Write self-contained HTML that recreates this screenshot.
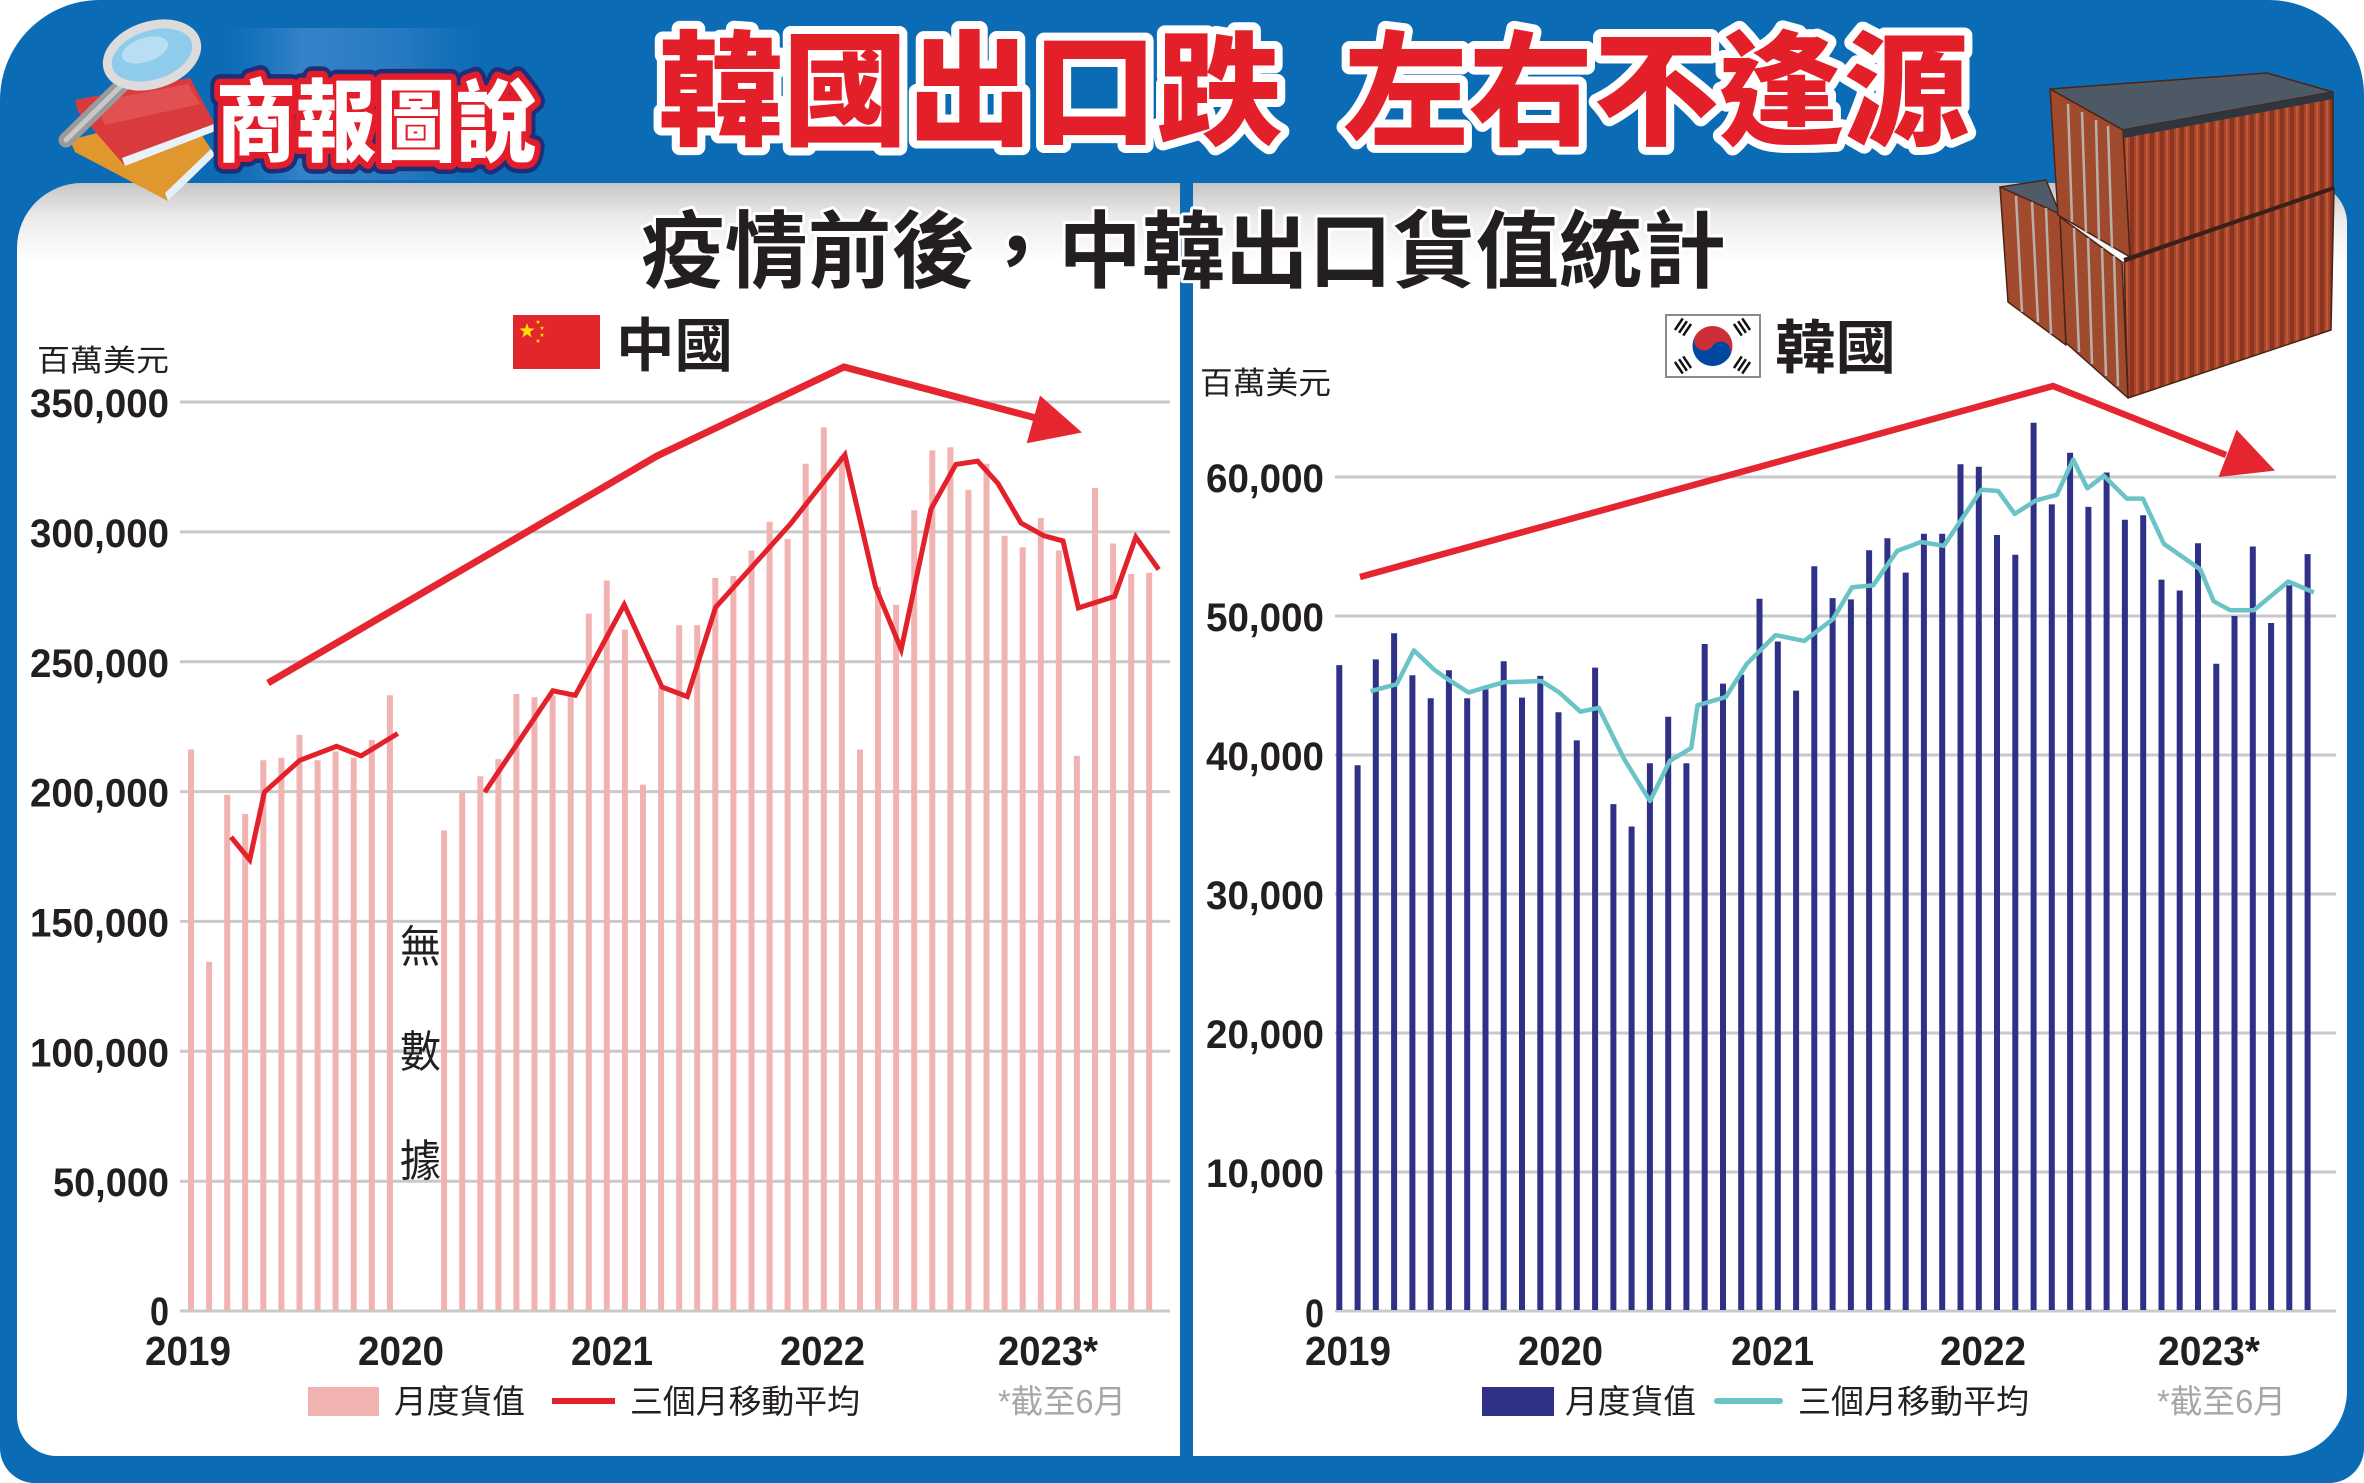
<!DOCTYPE html>
<html>
<head>
<meta charset="utf-8">
<style>
html,body{margin:0;padding:0;background:#fff;}
body{width:2364px;height:1483px;overflow:hidden;}
svg{display:block;}
.num{font-family:"Liberation Sans","Noto Sans CJK TC",sans-serif;font-weight:bold;fill:#231f20;}
.cjk{font-family:"Liberation Sans","Noto Sans CJK TC",sans-serif;}
</style>
</head>
<body>
<svg width="2364" height="1483" viewBox="0 0 2364 1483" xmlns="http://www.w3.org/2000/svg">
<defs>
  <linearGradient id="pg" x1="0" y1="183" x2="0" y2="262" gradientUnits="userSpaceOnUse">
    <stop offset="0" stop-color="#c6c6c6"/>
    <stop offset="0.45" stop-color="#ececec"/>
    <stop offset="1" stop-color="#ffffff"/>
  </linearGradient>
  <linearGradient id="tex" x1="0" y1="0" x2="1" y2="0">
    <stop offset="0" stop-color="#4a8fd6" stop-opacity="0"/>
    <stop offset="0.3" stop-color="#5a95d8" stop-opacity="0.55"/>
    <stop offset="0.7" stop-color="#3f86cc" stop-opacity="0.5"/>
    <stop offset="1" stop-color="#2f7cc4" stop-opacity="0"/>
  </linearGradient>
  <pattern id="ribs" width="10" height="20" patternUnits="userSpaceOnUse">
    <rect width="10" height="20" fill="#a9452a"/>
    <rect x="0" width="4" height="20" fill="#8a3520"/>
    <rect x="6" width="2" height="20" fill="#c0593a"/>
  </pattern>
  <polygon id="star" points="0,-8 1.9,-2.6 7.6,-2.5 3,1 4.7,6.5 0,3.2 -4.7,6.5 -3,1 -7.6,-2.5 -1.9,-2.6"/>
</defs>

<!-- outer blue frame -->
<path d="M100,0 H2269 A95,95 0 0 1 2364,95 V1448 A35,35 0 0 1 2329,1483 H35 A35,35 0 0 1 0,1448 V100 A100,100 0 0 1 100,0 Z" fill="#0b6cb5"/>
<!-- texture behind logo -->
<rect x="230" y="28" width="250" height="152" fill="url(#tex)"/>

<!-- white panels -->
<path d="M17,248 A65,65 0 0 1 82,183 H1180 V1456 H57 A40,40 0 0 1 17,1416 Z" fill="url(#pg)"/>
<path d="M1193,183 H2307 A40,40 0 0 1 2347,223 V1391 A65,65 0 0 1 2282,1456 H1193 Z" fill="url(#pg)"/>

<!-- logo icon: books & magnifier -->
<polygon points="70,140 185,110 215,155 168,201 75,152" fill="#e0982e"/>
<polygon points="168,201 215,155 211,149 165,193" fill="#e3f0f7"/>
<polygon points="75,100 190,78 218,130 125,166 78,112" fill="#d93a3c"/>
<polygon points="125,166 218,130 214,124 122,158" fill="#e8f2f8"/>
<polygon points="95,102 188,84 200,104 105,125" fill="#e86060" opacity="0.6"/>
<line x1="125" y1="82" x2="66" y2="140" stroke="#9a9a9a" stroke-width="15" stroke-linecap="round"/>
<line x1="125" y1="82" x2="66" y2="140" stroke="#c8c8c8" stroke-width="5" stroke-linecap="round"/>
<ellipse cx="152" cy="55" rx="46" ry="29" transform="rotate(-18 152 55)" fill="#8fcbea" stroke="#dcdcdc" stroke-width="9"/>
<ellipse cx="145" cy="50" rx="24" ry="12" transform="rotate(-18 145 50)" fill="#c7e6f6" opacity="0.7"/>

<!-- 商報圖說 -->
<text x="216" y="154" textLength="320" lengthAdjust="spacingAndGlyphs" class="cjk" font-size="90" font-weight="900" fill="#1d2f78" stroke="#1d2f78" stroke-width="22" stroke-linejoin="round">商報圖說</text>
<text x="216" y="154" textLength="320" lengthAdjust="spacingAndGlyphs" class="cjk" font-size="90" font-weight="900" fill="#ffffff" stroke="#e31e2a" stroke-width="13" stroke-linejoin="round" paint-order="stroke">商報圖說</text>

<!-- main title -->
<g class="cjk" font-size="124" font-weight="900" fill="#e3202a" stroke="#ffffff" stroke-width="16" stroke-linejoin="round" paint-order="stroke">
  <text x="658" y="135" textLength="624" lengthAdjust="spacingAndGlyphs">韓國出口跌</text>
  <text x="1343" y="135" textLength="626" lengthAdjust="spacingAndGlyphs">左右不逢源</text>
</g>

<!-- container image -->
<g stroke="#4a2416" stroke-width="1.5" stroke-linejoin="round">
  <polygon points="2000,187 2046,180 2060,214 2008,222" fill="#4f5b66"/>
  <polygon points="2000,187 2060,214 2066,345 2008,302" fill="#a24a2e"/>
  <polygon points="2050,89 2267,73 2333,92 2123,130" fill="#4d5a66"/>
  <polygon points="2123,130 2333,92 2333,187 2130,257" fill="url(#ribs)"/>
  <polygon points="2050,89 2123,130 2130,257 2058,215" fill="#a04a2d"/>
  <polygon points="2124,262 2334,188 2331,330 2128,398" fill="url(#ribs)"/>
  <polygon points="2060,217 2122,262 2128,398 2066,343" fill="#a04a2d"/>
</g>
<g stroke="#b8b0a8" stroke-width="2.5">
  <line x1="2068" y1="104" x2="2072" y2="222"/><line x1="2082" y1="112" x2="2086" y2="232"/>
  <line x1="2096" y1="120" x2="2099" y2="240"/><line x1="2108" y1="126" x2="2112" y2="248"/>
  <line x1="2016" y1="196" x2="2022" y2="312"/><line x1="2032" y1="202" x2="2038" y2="322"/>
  <line x1="2046" y1="208" x2="2051" y2="334"/>
  <line x1="2074" y1="228" x2="2079" y2="352"/><line x1="2088" y1="238" x2="2092" y2="364"/>
  <line x1="2102" y1="248" x2="2106" y2="376"/><line x1="2114" y1="256" x2="2118" y2="386"/>
</g>
<polygon points="2123,130 2333,92 2333,99 2124,138" fill="#2e3640"/>
<line x1="2124" y1="260" x2="2334" y2="188" stroke="#3a2018" stroke-width="4"/>

<!-- subtitle -->
<text x="641" y="281" textLength="1085" lengthAdjust="spacingAndGlyphs" class="cjk" font-size="84" font-weight="700" fill="#231f20" stroke="#ffffff" stroke-width="6" stroke-linejoin="round" paint-order="stroke">疫情前後，中韓出口貨值統計</text>

<!-- China flag + label -->
<rect x="513" y="315" width="87" height="54" fill="#e3262b"/>
<g fill="#ffde00">
  <use href="#star" transform="translate(527,331)"/>
  <use href="#star" transform="translate(538,322) scale(0.3)"/>
  <use href="#star" transform="translate(542,328) scale(0.3)"/>
  <use href="#star" transform="translate(542,335) scale(0.3)"/>
  <use href="#star" transform="translate(538,341) scale(0.3)"/>
</g>
<text x="616" y="366" textLength="117" lengthAdjust="spacingAndGlyphs" class="cjk" font-size="58" font-weight="700" fill="#231f20">中國</text>

<!-- Korea flag + label -->
<rect x="1666" y="315" width="94" height="62" fill="#ffffff" stroke="#8a8a8a" stroke-width="2"/>
<g transform="rotate(33.7 1712.5 346)">
  <path d="M1692.5,346 A20,20 0 0 1 1732.5,346 Z" fill="#cd2e3a"/>
  <path d="M1692.5,346 A20,20 0 0 0 1732.5,346 Z" fill="#0047a0"/>
  <circle cx="1702.5" cy="346" r="10" fill="#cd2e3a"/>
  <circle cx="1722.5" cy="346" r="10" fill="#0047a0"/>
</g>
<g stroke="#111" stroke-width="2.5">
  <g transform="rotate(-56 1683 327)"><line x1="1676" y1="322" x2="1690" y2="322"/><line x1="1676" y1="327" x2="1690" y2="327"/><line x1="1676" y1="332" x2="1690" y2="332"/></g>
  <g transform="rotate(56 1742 327)"><line x1="1735" y1="322" x2="1749" y2="322"/><line x1="1735" y1="327" x2="1749" y2="327"/><line x1="1735" y1="332" x2="1749" y2="332"/></g>
  <g transform="rotate(56 1683 365)"><line x1="1676" y1="360" x2="1690" y2="360"/><line x1="1676" y1="365" x2="1690" y2="365"/><line x1="1676" y1="370" x2="1690" y2="370"/></g>
  <g transform="rotate(-56 1742 365)"><line x1="1735" y1="360" x2="1749" y2="360"/><line x1="1735" y1="365" x2="1749" y2="365"/><line x1="1735" y1="370" x2="1749" y2="370"/></g>
</g>
<text x="1775" y="368" textLength="121" lengthAdjust="spacingAndGlyphs" class="cjk" font-size="58" font-weight="700" fill="#231f20">韓國</text>

<!-- unit labels -->
<text x="37" y="371" textLength="132" lengthAdjust="spacingAndGlyphs" class="cjk" font-size="30" fill="#231f20">百萬美元</text>
<text x="1200" y="394" textLength="131" lengthAdjust="spacingAndGlyphs" class="cjk" font-size="31" fill="#231f20">百萬美元</text>

<!-- gridlines -->
<g stroke="#c9c9c9" stroke-width="3">
  <line x1="180" y1="402" x2="1170" y2="402"/>
  <line x1="180" y1="531.9" x2="1170" y2="531.9"/>
  <line x1="180" y1="661.7" x2="1170" y2="661.7"/>
  <line x1="180" y1="791.6" x2="1170" y2="791.6"/>
  <line x1="180" y1="921.4" x2="1170" y2="921.4"/>
  <line x1="180" y1="1051.3" x2="1170" y2="1051.3"/>
  <line x1="180" y1="1181.2" x2="1170" y2="1181.2"/>
  <line x1="180" y1="1311" x2="1170" y2="1311"/>
  <line x1="1335" y1="477" x2="2336" y2="477"/>
  <line x1="1335" y1="616" x2="2336" y2="616"/>
  <line x1="1335" y1="755" x2="2336" y2="755"/>
  <line x1="1335" y1="894" x2="2336" y2="894"/>
  <line x1="1335" y1="1033" x2="2336" y2="1033"/>
  <line x1="1335" y1="1172" x2="2336" y2="1172"/>
  <line x1="1335" y1="1311" x2="2336" y2="1311"/>
</g>

<!-- China bars -->
<path fill="none" stroke="#f1b2b2" stroke-width="6" d="M191 749.5V1310 M209.1 961.9V1310 M227.2 794.8V1310 M245.2 813.9V1310 M263.3 760.3V1310 M281.4 757.8V1310 M299.5 734.8V1310 M317.6 760.3V1310 M335.6 751.4V1310 M353.7 757.8V1310 M371.8 739.9V1310 M389.9 695.3V1310 M444.1 830.5V1310 M462.2 792.2V1310 M480.3 776.3V1310 M498.4 759.1V1310 M516.4 694V1310 M534.5 697.2V1310 M552.6 695.3V1310 M570.7 695.3V1310 M588.8 613.6V1310 M606.8 580.5V1310 M624.9 629.6V1310 M643 784.6V1310 M661.1 687V1310 M679.2 625.1V1310 M697.2 625.1V1310 M715.3 577.9V1310 M733.4 576V1310 M751.5 550.5V1310 M769.6 521.8V1310 M787.6 539V1310 M805.7 463.8V1310 M823.8 427.4V1310 M841.9 456.1V1310 M860 749.5V1310 M878 586.9V1310 M896.1 604.7V1310 M914.2 510.3V1310 M932.3 450.4V1310 M950.4 447.2V1310 M968.4 489.9V1310 M986.5 463.8V1310 M1004.6 535.8V1310 M1022.7 547.3V1310 M1040.8 518V1310 M1058.8 550.5V1310 M1076.9 755.9V1310 M1095 488V1310 M1113.1 543.5V1310 M1131.2 574.1V1310 M1149.2 572.8V1310"/>

<!-- Korea bars -->
<path fill="none" stroke="#2e3186" stroke-width="6" d="M1339.3 665.1V1310 M1357.6 765.2V1310 M1375.8 659.4V1310 M1394.1 633.2V1310 M1412.4 675.3V1310 M1430.7 698.3V1310 M1448.9 670.2V1310 M1467.2 698.3V1310 M1485.5 689.3V1310 M1503.7 661.3V1310 M1522 697.6V1310 M1540.3 675.9V1310 M1558.5 712.3V1310 M1576.8 740.4V1310 M1595.1 667.6V1310 M1613.4 804.1V1310 M1631.6 826.5V1310 M1649.9 763.3V1310 M1668.2 716.8V1310 M1686.4 763.3V1310 M1704.7 644V1310 M1723 683.6V1310 M1741.2 674.7V1310 M1759.5 598.8V1310 M1777.8 641.5V1310 M1796.1 690.6V1310 M1814.3 566.2V1310 M1832.6 598.1V1310 M1850.9 599.4V1310 M1869.1 550.3V1310 M1887.4 538.2V1310 M1905.7 572.6V1310 M1923.9 533.7V1310 M1942.2 533.7V1310 M1960.5 464.2V1310 M1978.8 466.7V1310 M1997 535V1310 M2015.3 554.8V1310 M2033.6 422.7V1310 M2051.8 504.4V1310 M2070.1 452.7V1310 M2088.4 506.9V1310 M2106.6 472.5V1310 M2124.9 519.7V1310 M2143.2 515.2V1310 M2161.5 579.6V1310 M2179.7 590.5V1310 M2198 543.3V1310 M2216.3 663.8V1310 M2234.5 616V1310 M2252.8 546.5V1310 M2271.1 623V1310 M2289.3 585.4V1310 M2307.6 554.1V1310"/>

<!-- China moving average -->
<g fill="none" stroke="#e2212b" stroke-width="5" stroke-linejoin="miter" stroke-linecap="butt">
  <polyline points="231,837 249.7,859.8 264.4,792.2 299.9,760.3 336.6,746.3 361.1,755.9 397.8,733.5"/>
  <polyline points="484.7,792.2 552.8,690.8 575.3,695.3 624.2,604.7 662,687 687.3,696.6 715.6,607.3 790.2,524.3 844.9,454.8 875.5,586.9 901.2,649.4 931,509 955.9,464.4 977.7,461.2 998,483.5 1021,523 1044,535.8 1063,540.9 1078.4,607.9 1114.7,596.4 1135.8,537.1 1158.7,569.6"/>
</g>

<!-- Korea moving average -->
<polyline fill="none" stroke="#6ac3c4" stroke-width="4.5" stroke-linejoin="round" points="1370.6,691.2 1396.7,684.2 1413.9,650.4 1434.9,670.2 1448.7,679.8 1468.6,692.5 1485.4,687.4 1503.8,682.3 1541.3,681 1559.3,692.5 1580.4,711.7 1598.7,707.8 1624.4,759.5 1650,801 1669.9,760.8 1691.3,748 1697.5,705.3 1725.8,697 1746.8,663.8 1775.5,635.1 1804.2,640.9 1832.9,619.2 1852,587.3 1873.1,585.4 1897.2,550.9 1920.9,542 1943.9,545.8 1981.4,489.7 1998.2,491 2014.7,513.9 2035.7,500.5 2056.8,494.8 2073.2,459.7 2087.4,488.4 2103.8,475.7 2126.8,498.6 2142.9,498.6 2163.9,543.9 2200.3,569.4 2213.7,601.3 2230.1,610.2 2253.9,610.2 2288.3,581.5 2313.9,592.4"/>

<!-- trend arrows -->
<polyline fill="none" stroke="#e5252f" stroke-width="7" stroke-linejoin="miter" points="268,683 657,456 844,367 1036,418"/>
<polygon fill="#e5252f" points="1082,432.5 1040,395.5 1026.7,443.3"/>
<polyline fill="none" stroke="#e5252f" stroke-width="6.5" stroke-linejoin="miter" points="1360,577 2053,386 2226,455"/>
<polygon fill="#e5252f" points="2275,470.6 2236.6,429.7 2218.6,477"/>

<!-- 無數據 -->
<g class="cjk" font-size="44" fill="#231f20">
  <text x="400" y="962" textLength="41" lengthAdjust="spacingAndGlyphs">無</text>
  <text x="400" y="1067" textLength="41" lengthAdjust="spacingAndGlyphs">數</text>
  <text x="400" y="1176" textLength="41" lengthAdjust="spacingAndGlyphs">據</text>
</g>

<!-- y-axis labels left -->
<g class="num" font-size="40" text-anchor="end">
  <text x="169" y="417" textLength="139" lengthAdjust="spacingAndGlyphs">350,000</text>
  <text x="169" y="547" textLength="139" lengthAdjust="spacingAndGlyphs">300,000</text>
  <text x="169" y="677" textLength="139" lengthAdjust="spacingAndGlyphs">250,000</text>
  <text x="169" y="806.6" textLength="139" lengthAdjust="spacingAndGlyphs">200,000</text>
  <text x="169" y="936.4" textLength="139" lengthAdjust="spacingAndGlyphs">150,000</text>
  <text x="169" y="1066.3" textLength="139" lengthAdjust="spacingAndGlyphs">100,000</text>
  <text x="169" y="1196" textLength="116" lengthAdjust="spacingAndGlyphs">50,000</text>
  <text x="169" y="1325" textLength="19" lengthAdjust="spacingAndGlyphs">0</text>
</g>
<!-- y-axis labels right -->
<g class="num" font-size="40" text-anchor="end">
  <text x="1324" y="492" textLength="118" lengthAdjust="spacingAndGlyphs">60,000</text>
  <text x="1324" y="631" textLength="118" lengthAdjust="spacingAndGlyphs">50,000</text>
  <text x="1324" y="770" textLength="118" lengthAdjust="spacingAndGlyphs">40,000</text>
  <text x="1324" y="909" textLength="118" lengthAdjust="spacingAndGlyphs">30,000</text>
  <text x="1324" y="1048" textLength="118" lengthAdjust="spacingAndGlyphs">20,000</text>
  <text x="1324" y="1187" textLength="118" lengthAdjust="spacingAndGlyphs">10,000</text>
  <text x="1324" y="1327" textLength="19" lengthAdjust="spacingAndGlyphs">0</text>
</g>

<!-- x-axis labels -->
<g class="num" font-size="41">
  <text x="145" y="1365" textLength="86" lengthAdjust="spacingAndGlyphs">2019</text>
  <text x="358" y="1365" textLength="86" lengthAdjust="spacingAndGlyphs">2020</text>
  <text x="571" y="1365" textLength="82" lengthAdjust="spacingAndGlyphs">2021</text>
  <text x="780" y="1365" textLength="85" lengthAdjust="spacingAndGlyphs">2022</text>
  <text x="998" y="1365" textLength="100" lengthAdjust="spacingAndGlyphs">2023*</text>
  <text x="1305" y="1365" textLength="86" lengthAdjust="spacingAndGlyphs">2019</text>
  <text x="1518" y="1365" textLength="85" lengthAdjust="spacingAndGlyphs">2020</text>
  <text x="1731" y="1365" textLength="83" lengthAdjust="spacingAndGlyphs">2021</text>
  <text x="1940" y="1365" textLength="86" lengthAdjust="spacingAndGlyphs">2022</text>
  <text x="2158" y="1365" textLength="102" lengthAdjust="spacingAndGlyphs">2023*</text>
</g>

<!-- legends -->
<rect x="308" y="1387" width="71" height="29" fill="#f1b2b2"/>
<line x1="552" y1="1401" x2="615" y2="1401" stroke="#e2212b" stroke-width="6"/>
<rect x="1482" y="1387" width="72" height="29" fill="#2e3186"/>
<line x1="1717" y1="1401" x2="1780" y2="1401" stroke="#6ac3c4" stroke-width="6" stroke-linecap="round"/>
<g class="cjk" font-size="33" fill="#231f20">
  <text x="394" y="1413" textLength="131" lengthAdjust="spacingAndGlyphs">月度貨值</text>
  <text x="630" y="1413" textLength="230" lengthAdjust="spacingAndGlyphs">三個月移動平均</text>
  <text x="1565" y="1413" textLength="131" lengthAdjust="spacingAndGlyphs">月度貨值</text>
  <text x="1798" y="1413" textLength="231" lengthAdjust="spacingAndGlyphs">三個月移動平均</text>
</g>
<g class="cjk" font-size="33" fill="#a6a6a6">
  <text x="998" y="1413" textLength="128" lengthAdjust="spacingAndGlyphs">*截至6月</text>
  <text x="2157" y="1413" textLength="129" lengthAdjust="spacingAndGlyphs">*截至6月</text>
</g>
</svg>
</body>
</html>
